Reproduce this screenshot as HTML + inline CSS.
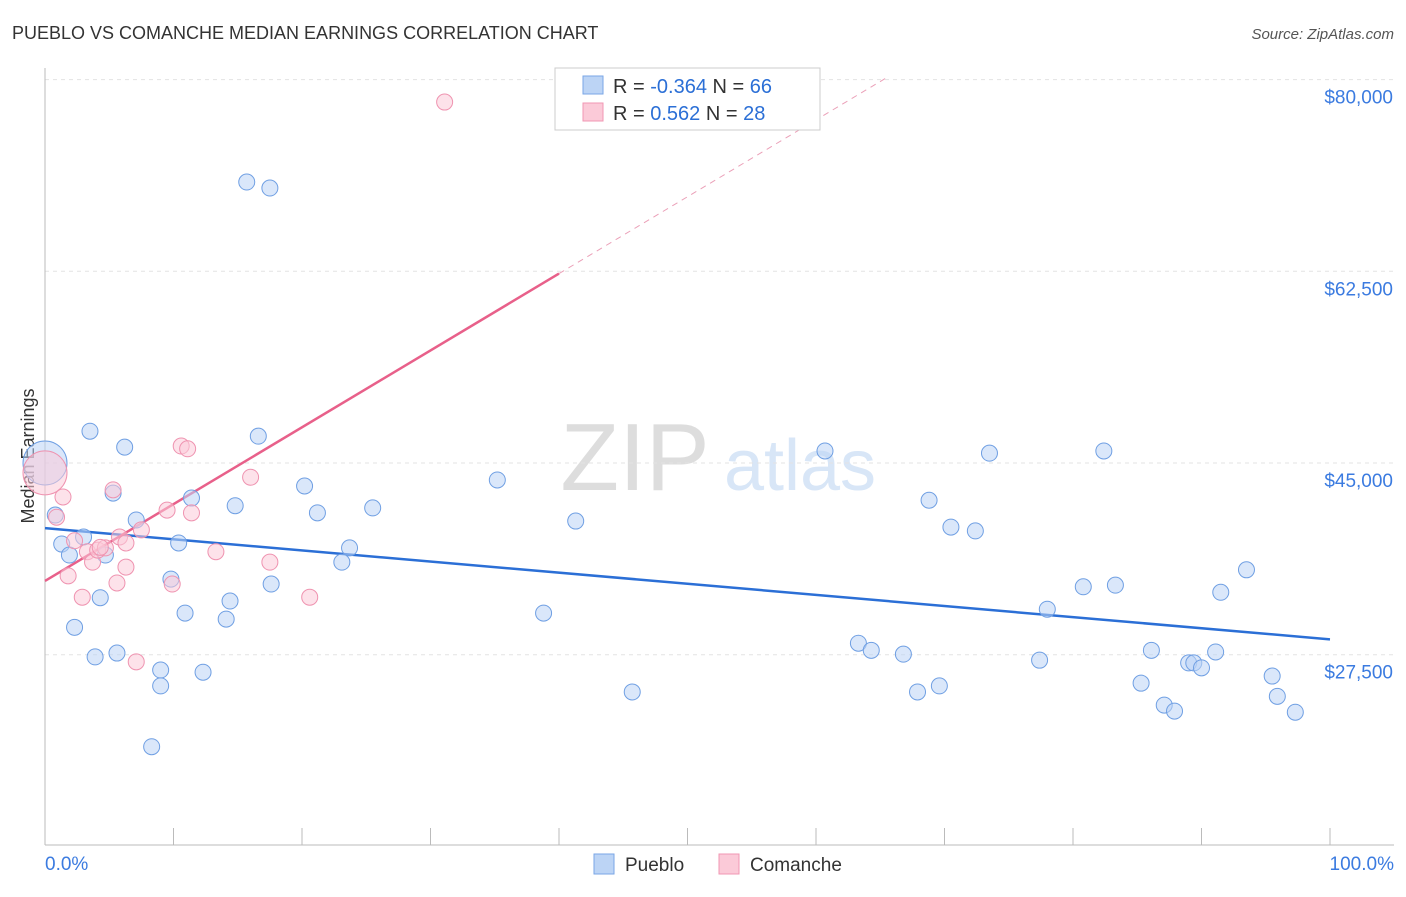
<!DOCTYPE html>
<html><head><meta charset="utf-8"><style>
body{margin:0;background:#fff;font-family:"Liberation Sans",sans-serif;}
svg text{font-family:"Liberation Sans",sans-serif;}
</style></head><body>
<svg id="chart" width="1406" height="892" xmlns="http://www.w3.org/2000/svg">
<text x="12" y="39" font-size="18" fill="#333">PUEBLO VS COMANCHE MEDIAN EARNINGS CORRELATION CHART</text>
<text x="1394" y="39" font-size="15" fill="#555" font-style="italic" text-anchor="end">Source: ZipAtlas.com</text>
<text x="0" y="0" transform="translate(34,456) rotate(-90)" font-size="18" fill="#333" text-anchor="middle">Median Earnings</text>
<g><text x="635" y="490" font-size="96" fill="#ddd" font-family="Liberation Serif" text-anchor="middle">ZIP</text><text x="800" y="490" font-size="72" fill="#d8e6f7" text-anchor="middle">atlas</text></g>
<g id="grid"></g><g id="axes"></g><g id="trend"></g><g id="pts"></g>
<g>
<rect x="555" y="68" width="265" height="62" fill="#fff" stroke="#ccc"/>
<rect x="583" y="76" width="20" height="18" fill="#bcd4f5" stroke="#7aa6e6"/>
<rect x="583" y="103" width="20" height="18" fill="#fbcad8" stroke="#f097b3"/>
<text x="613" y="93" font-size="20" fill="#333">R = <tspan fill="#2b6fd6">-0.364</tspan>   N = <tspan fill="#2b6fd6">66</tspan></text>
<text x="613" y="120" font-size="20" fill="#333">R =   <tspan fill="#2b6fd6">0.562</tspan>   N = <tspan fill="#2b6fd6">28</tspan></text>
</g>
<g>
<rect x="594" y="854" width="20" height="20" fill="#bcd4f5" stroke="#7aa6e6"/><text x="625" y="871" font-size="19" fill="#333">Pueblo</text>
<rect x="719" y="854" width="20" height="20" fill="#fbcad8" stroke="#f097b3"/><text x="750" y="871" font-size="19" fill="#333">Comanche</text>
</g>
</svg>
<script>
const yTicks=[80000,62500,45000,27500];
const yTickLabels=["$80,000","$62,500","$45,000","$27,500"];
const xTickLabels=["0.0%","100.0%"];
const puebloX=[0,0.8,1.3,1.9,2.3,3.0,3.5,3.9,4.3,4.7,5.3,5.6,6.2,7.1,8.3,9.0,9.0,9.8,10.4,10.9,11.4,12.3,14.1,14.4,14.8,15.7,16.6,17.5,17.6,20.2,21.2,23.1,23.7,25.5,35.2,38.8,41.3,45.7,60.7,63.3,64.3,66.8,67.9,68.8,69.6,70.5,72.4,73.5,77.4,78.0,80.8,82.4,83.3,85.3,86.1,87.1,87.9,89.0,89.4,90.0,91.1,91.5,93.5,95.5,95.9,97.3];
const puebloY=[45000,40250,37600,36600,30000,38250,47900,27300,32700,36600,42250,27650,46450,39800,19100,26100,24650,34400,37700,31300,41800,25900,30750,32400,41100,70650,47450,70100,33950,42900,40450,35950,37250,40900,43450,31300,39700,24100,46100,28550,27900,27550,24100,41600,24650,39150,38800,45900,27000,31650,33700,46100,33850,24900,27900,22900,22350,26750,26750,26300,27750,33200,35250,25550,23700,22250];
const comancheX=[0,31.1,0.9,1.4,1.8,2.3,2.9,3.3,3.7,4.1,4.7,5.3,5.6,5.8,6.3,7.1,7.5,9.5,9.9,10.6,11.1,11.4,13.3,16.0,17.5,20.6,6.3,4.3];
const comancheY=[44100,77950,40050,41900,34700,37900,32750,36900,35950,37050,37250,42550,34050,38250,35500,26850,38900,40700,33950,46550,46300,40450,36900,43700,35950,32750,37700,37300];
const puebloTrend=[39050,28900];
const comancheTrend=[34230,701.5];
const X=p=>45+p*12.85, Y=v=>463-(v-45000)*191.7/17500;
const NS="http://www.w3.org/2000/svg";
function mk(tag,attrs,parent){const e=document.createElementNS(NS,tag);for(const k in attrs)e.setAttribute(k,attrs[k]);document.getElementById(parent).appendChild(e);return e;}
yTicks.forEach((v,i)=>{
 const l=mk('line',{x1:45,x2:1394,y1:Y(v),y2:Y(v),stroke:'#e3e3e3','stroke-dasharray':'4,4'},'grid');
 
 
 const t=mk('text',{x:1393,y:Y(v)+24,'font-size':19,fill:'#3b7be0','text-anchor':'end'},'grid');t.textContent=yTickLabels[i];
 
 
});
mk('line',{x1:45,x2:45,y1:68,y2:845,stroke:'#bbb'},'axes');
mk('line',{x1:45,x2:1394,y1:845,y2:845,stroke:'#bbb'},'axes');
for(let i=0;i<=10;i++){const t=mk('line',{x1:X(i*10),x2:X(i*10),y1:828,y2:845,stroke:'#bbb'},'axes');
 
 }
[[45,'start'],[1394,'end']].forEach((a,i)=>{const t=mk('text',{x:a[0],y:870,'font-size':19,fill:'#3b7be0','text-anchor':a[1]},'axes');t.textContent=xTickLabels[i];
 
 });
let tl=mk('line',{x1:X(0),y1:Y(puebloTrend[0]),x2:X(100),y2:Y(puebloTrend[1]),stroke:'#2b6fd6','stroke-width':2.5},'trend');


const cy=p=>comancheTrend[0]+comancheTrend[1]*p;
tl=mk('line',{x1:X(0),y1:Y(cy(0)),x2:X(40),y2:Y(cy(40)),stroke:'#e8608a','stroke-width':2.5},'trend');


tl=mk('line',{x1:X(40),y1:Y(cy(40)),x2:X(65.7),y2:Y(cy(65.7)),stroke:'#eba0b8','stroke-width':1,'stroke-dasharray':'6,5'},'trend');


function pts(xs,ys,fill,stroke,name){xs.forEach((x,i)=>{const c=mk('circle',{cx:X(x),cy:Y(ys[i]),r:i===0?22:8,fill:fill,'fill-opacity':0.55,stroke:stroke,'stroke-width':1},'pts');
 
 });}
pts(puebloX,puebloY,'#bcd4f5','#6f9fe3','pueblo-point');
pts(comancheX,comancheY,'#fbcad8','#ef93b0','comanche-point');
</script>
</body></html>
